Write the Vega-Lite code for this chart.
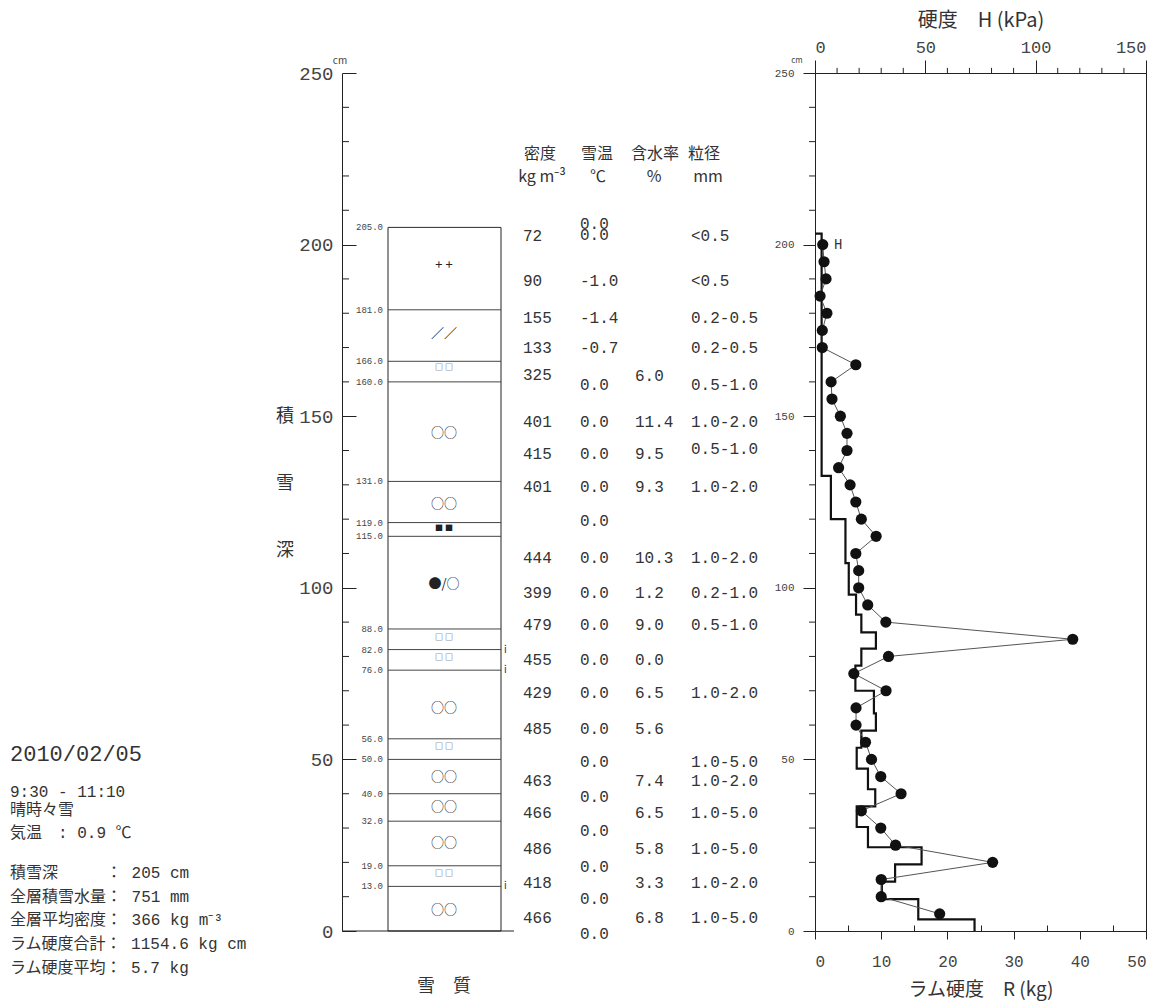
{
  "$schema": "https://vega.github.io/schema/vega-lite/v6.json",
  "background": "white",
  "padding": {"left": 10, "top": 9, "right": 5, "bottom": 5},
  "autosize": {"type": "pad"},
  "bounds": "flush",
  "spacing": 0,
  "config": {
    "view": {"stroke": null},
    "font": "Noto Sans CJK JP",
    "text": {"color": "#333", "font": "Noto Sans CJK JP"},
    "axis": {"labelFont": "Liberation Mono", "titleFont": "Noto Sans CJK JP", "domainColor": "#222", "tickColor": "#222", "labelColor": "#444", "titleColor": "#333", "grid": false, "titleFontWeight": "normal", "labelOverlap": false}
  },
  "datasets": {
    "info": [
      {"line": 0, "text": "2010/02/05"},
      {"line": 1.61, "text": "9:30 - 11:10"},
      {"line": 2.37, "text": "\u00a0晴時々雪"},
      {"line": 3.35, "text": "気温　: 0.9 ℃"},
      {"line": 5.04, "text": "積雪深　　　： 205 cm"},
      {"line": 6.06, "text": "全層積雪水量： 751 mm"},
      {"line": 7.03, "text": "全層平均密度： 366 kg m⁻³"},
      {"line": 8.05, "text": "ラム硬度合計： 1154.6 kg cm"},
      {"line": 9.07, "text": "ラム硬度平均： 5.7 kg"}
    ],
    "minorDepth": [
      {"v": 10}, {"v": 20}, {"v": 30}, {"v": 40}, {"v": 60}, {"v": 70}, {"v": 80}, {"v": 90},
      {"v": 110}, {"v": 120}, {"v": 130}, {"v": 140}, {"v": 160}, {"v": 170}, {"v": 180}, {"v": 190},
      {"v": 210}, {"v": 220}, {"v": 230}, {"v": 240}
    ],
    "minorH": [
      {"h": 10}, {"h": 20}, {"h": 30}, {"h": 40}, {"h": 60}, {"h": 70}, {"h": 80}, {"h": 90},
      {"h": 110}, {"h": 120}, {"h": 130}, {"h": 140}
    ],
    "bounds": [
      {"b": 205}, {"b": 181}, {"b": 166}, {"b": 160}, {"b": 131}, {"b": 119}, {"b": 115}, {"b": 88},
      {"b": 82}, {"b": 76}, {"b": 56}, {"b": 50}, {"b": 40}, {"b": 32}, {"b": 19}, {"b": 13}
    ],
    "symbols": [
      {"d": 194, "s": "+ +"}, {"d": 174, "s": "／／"}, {"d": 164, "s": "□ □"}, {"d": 145, "s": "○○"},
      {"d": 124.5, "s": "○○"}, {"d": 117, "s": "■ ■"}, {"d": 101, "s": "●/○"}, {"d": 85.5, "s": "□ □"},
      {"d": 79.5, "s": "□ □"}, {"d": 65, "s": "○○"}, {"d": 53.5, "s": "□ □"}, {"d": 45, "s": "○○"},
      {"d": 36, "s": "○○"}, {"d": 25.5, "s": "○○"}, {"d": 16.5, "s": "□ □"}, {"d": 6, "s": "○○"}
    ],
    "ice": [{"d": 82}, {"d": 76}, {"d": 13}],
    "table": [
      {"c": "密度", "d": 202.6, "t": "72"}, {"c": "密度", "d": 189.5, "t": "90"}, {"c": "密度", "d": 178.5, "t": "155"},
      {"c": "密度", "d": 170, "t": "133"}, {"c": "密度", "d": 162, "t": "325"}, {"c": "密度", "d": 148.4, "t": "401"},
      {"c": "密度", "d": 139, "t": "415"}, {"c": "密度", "d": 129.3, "t": "401"}, {"c": "密度", "d": 108.7, "t": "444"},
      {"c": "密度", "d": 98.5, "t": "399"}, {"c": "密度", "d": 89.2, "t": "479"}, {"c": "密度", "d": 79, "t": "455"},
      {"c": "密度", "d": 69.3, "t": "429"}, {"c": "密度", "d": 58.9, "t": "485"}, {"c": "密度", "d": 43.8, "t": "463"},
      {"c": "密度", "d": 34.4, "t": "466"}, {"c": "密度", "d": 23.9, "t": "486"}, {"c": "密度", "d": 13.9, "t": "418"},
      {"c": "密度", "d": 3.8, "t": "466"},
      {"c": "雪温", "d": 206.0, "t": "0.0"}, {"c": "雪温", "d": 202.7, "t": "0.0"}, {"c": "雪温", "d": 189.5, "t": "-1.0"},
      {"c": "雪温", "d": 178.5, "t": "-1.4"}, {"c": "雪温", "d": 170, "t": "-0.7"}, {"c": "雪温", "d": 159.1, "t": "0.0"},
      {"c": "雪温", "d": 148.4, "t": "0.0"}, {"c": "雪温", "d": 139, "t": "0.0"}, {"c": "雪温", "d": 129.3, "t": "0.0"},
      {"c": "雪温", "d": 119.6, "t": "0.0"}, {"c": "雪温", "d": 108.7, "t": "0.0"}, {"c": "雪温", "d": 98.5, "t": "0.0"},
      {"c": "雪温", "d": 89.2, "t": "0.0"}, {"c": "雪温", "d": 79, "t": "0.0"}, {"c": "雪温", "d": 69.3, "t": "0.0"},
      {"c": "雪温", "d": 58.9, "t": "0.0"}, {"c": "雪温", "d": 49.3, "t": "0.0"}, {"c": "雪温", "d": 39, "t": "0.0"},
      {"c": "雪温", "d": 29.2, "t": "0.0"}, {"c": "雪温", "d": 18.6, "t": "0.0"}, {"c": "雪温", "d": 9.3, "t": "0.0"},
      {"c": "雪温", "d": -0.9, "t": "0.0"},
      {"c": "含水率", "d": 161.6, "t": "6.0"}, {"c": "含水率", "d": 148.4, "t": "11.4"}, {"c": "含水率", "d": 139, "t": "9.5"},
      {"c": "含水率", "d": 129.3, "t": "9.3"}, {"c": "含水率", "d": 108.7, "t": "10.3"}, {"c": "含水率", "d": 98.5, "t": "1.2"},
      {"c": "含水率", "d": 89.2, "t": "9.0"}, {"c": "含水率", "d": 79, "t": "0.0"}, {"c": "含水率", "d": 69.3, "t": "6.5"},
      {"c": "含水率", "d": 58.9, "t": "5.6"}, {"c": "含水率", "d": 43.8, "t": "7.4"}, {"c": "含水率", "d": 34.4, "t": "6.5"},
      {"c": "含水率", "d": 23.9, "t": "5.8"}, {"c": "含水率", "d": 13.9, "t": "3.3"}, {"c": "含水率", "d": 3.8, "t": "6.8"},
      {"c": "粒径", "d": 202.6, "t": "<0.5"}, {"c": "粒径", "d": 189.5, "t": "<0.5"}, {"c": "粒径", "d": 178.5, "t": "0.2-0.5"},
      {"c": "粒径", "d": 170, "t": "0.2-0.5"}, {"c": "粒径", "d": 159.1, "t": "0.5-1.0"}, {"c": "粒径", "d": 148.4, "t": "1.0-2.0"},
      {"c": "粒径", "d": 140.4, "t": "0.5-1.0"}, {"c": "粒径", "d": 129.3, "t": "1.0-2.0"}, {"c": "粒径", "d": 108.7, "t": "1.0-2.0"},
      {"c": "粒径", "d": 98.5, "t": "0.2-1.0"}, {"c": "粒径", "d": 89.2, "t": "0.5-1.0"}, {"c": "粒径", "d": 69.3, "t": "1.0-2.0"},
      {"c": "粒径", "d": 49.3, "t": "1.0-5.0"}, {"c": "粒径", "d": 43.8, "t": "1.0-2.0"}, {"c": "粒径", "d": 34.4, "t": "1.0-5.0"},
      {"c": "粒径", "d": 23.9, "t": "1.0-5.0"}, {"c": "粒径", "d": 13.9, "t": "1.0-2.0"}, {"c": "粒径", "d": 3.8, "t": "1.0-5.0"}
    ],
    "ram": [
      {"i": 0, "top": 203.2, "R": 0}, {"i": 1, "top": 203.2, "R": 1.0}, {"i": 2, "top": 132.6, "R": 2.4},
      {"i": 3, "top": 120, "R": 4.6}, {"i": 4, "top": 107.2, "R": 5.1}, {"i": 5, "top": 98, "R": 6.2},
      {"i": 6, "top": 92.2, "R": 7.0}, {"i": 7, "top": 87, "R": 9.2}, {"i": 8, "top": 82.3, "R": 7.0},
      {"i": 9, "top": 77.3, "R": 6.1}, {"i": 10, "top": 70, "R": 8.9}, {"i": 11, "top": 63.4, "R": 9.2},
      {"i": 12, "top": 58.4, "R": 7.0}, {"i": 13, "top": 53.4, "R": 6.3}, {"i": 14, "top": 47.3, "R": 8.0},
      {"i": 15, "top": 41.3, "R": 9.1}, {"i": 16, "top": 36.3, "R": 6.3}, {"i": 17, "top": 30.3, "R": 8.0},
      {"i": 18, "top": 24.4, "R": 16.1}, {"i": 19, "top": 19.4, "R": 12.1}, {"i": 20, "top": 14.4, "R": 10.1},
      {"i": 21, "top": 9.3, "R": 15.6}, {"i": 22, "top": 3.4, "R": 24.1}, {"i": 23, "top": 0, "R": 24.1}
    ],
    "hard": [
      {"d": 200, "H": 3.5}, {"d": 195, "H": 4.1}, {"d": 190, "H": 5.0}, {"d": 185, "H": 2.3}, {"d": 180, "H": 5.4},
      {"d": 175, "H": 3.3}, {"d": 170, "H": 3.3}, {"d": 165, "H": 18.5}, {"d": 160, "H": 7.3}, {"d": 155, "H": 7.7},
      {"d": 150, "H": 11.5}, {"d": 145, "H": 14.5}, {"d": 140, "H": 14.5}, {"d": 135, "H": 10.7}, {"d": 130, "H": 15.9},
      {"d": 125, "H": 18.5}, {"d": 120, "H": 21.0}, {"d": 115, "H": 27.7}, {"d": 110, "H": 18.5}, {"d": 105, "H": 19.8},
      {"d": 100, "H": 19.8}, {"d": 95, "H": 23.9}, {"d": 90, "H": 32.1}, {"d": 85, "H": 116.8}, {"d": 80, "H": 33.3},
      {"d": 75, "H": 17.6}, {"d": 70, "H": 32.2}, {"d": 65, "H": 18.6}, {"d": 60, "H": 18.6}, {"d": 55, "H": 22.9},
      {"d": 50, "H": 25.6}, {"d": 45, "H": 29.8}, {"d": 40, "H": 39.0}, {"d": 35, "H": 21.0}, {"d": 30, "H": 29.8},
      {"d": 25, "H": 36.5}, {"d": 20, "H": 80.5}, {"d": 15, "H": 30.0}, {"d": 10, "H": 30.0}, {"d": 5, "H": 56.5}
    ]
  },
  "hconcat": [
    {
      "width": 332,
      "height": 858,
      "data": {"name": "info"},
      "encoding": {
        "x": {"datum": 0, "type": "quantitative", "scale": {"domain": [0, 1], "nice": false}, "axis": null},
        "y": {"field": "line", "type": "quantitative", "scale": {"domain": [-28.86, 7.5], "reverse": true, "nice": false, "zero": false}, "axis": null},
        "text": {"field": "text"}
      },
      "layer": [
        {"transform": [{"filter": "datum.line === 0"}], "mark": {"type": "text", "align": "left", "baseline": "middle", "fontSize": 22, "font": "Liberation Mono, Noto Sans CJK JP", "color": "#333"}},
        {"transform": [{"filter": "datum.line !== 0"}], "mark": {"type": "text", "align": "left", "baseline": "middle", "fontSize": 16, "font": "Liberation Mono, Noto Sans CJK JP", "color": "#333"}}
      ]
    },
    {
      "width": 473,
      "height": 858,
      "layer": [
        {
          "data": {"values": [{"top": 205, "bottom": 0}]},
          "mark": {"type": "rect", "filled": false, "color": "#222", "strokeWidth": 1},
          "encoding": {
            "x": {"datum": 46, "type": "quantitative", "scale": {"domain": [0, 473], "nice": false, "zero": false}, "axis": null},
            "x2": {"datum": 159},
            "y": {"field": "top", "type": "quantitative", "scale": {"domain": [0, 250], "nice": false},
              "axis": {"values": [0, 50, 100, 150, 200, 250], "tickSize": -14,
                "labelFontSize": 19, "labelPadding": 23, "title": null}},
            "y2": {"field": "bottom"}
          }
        },
        {
          "data": {"name": "minorDepth"},
          "mark": {"type": "rule", "color": "#222", "strokeWidth": 1},
          "encoding": {
            "x": {"datum": 0, "type": "quantitative"},
            "x2": {"datum": 7},
            "y": {"field": "v", "type": "quantitative"}
          }
        },
        {
          "data": {"name": "bounds"},
          "mark": {"type": "rule", "color": "#444", "strokeWidth": 1},
          "encoding": {
            "x": {"datum": 46, "type": "quantitative"},
            "x2": {"datum": 159},
            "y": {"field": "b", "type": "quantitative"}
          }
        },
        {
          "data": {"name": "bounds"},
          "mark": {"type": "text", "align": "right", "baseline": "middle", "fontSize": 9, "color": "#444", "font": "Liberation Mono"},
          "encoding": {
            "x": {"datum": 41, "type": "quantitative"},
            "y": {"field": "b", "type": "quantitative"},
            "text": {"field": "b", "type": "quantitative", "format": ".1f"}
          }
        },
        {
          "data": {"name": "symbols"},
          "transform": [{"filter": "indexof(datum.s, '□') < 0 && indexof(datum.s, '■') < 0"}],
          "mark": {"type": "text", "align": "center", "baseline": "middle", "fontSize": 13, "color": "#222"},
          "encoding": {
            "x": {"datum": 102, "type": "quantitative"},
            "y": {"field": "d", "type": "quantitative"},
            "text": {"field": "s"}
          }
        },
        {
          "data": {"name": "symbols"},
          "transform": [{"filter": "indexof(datum.s, '□') >= 0 || indexof(datum.s, '■') >= 0"}],
          "mark": {"type": "text", "align": "center", "baseline": "middle", "fontSize": 8, "color": "#222"},
          "encoding": {
            "x": {"datum": 102, "type": "quantitative"},
            "y": {"field": "d", "type": "quantitative"},
            "text": {"field": "s"}
          }
        },
        {
          "data": {"name": "ice"},
          "mark": {"type": "text", "align": "left", "baseline": "middle", "fontSize": 10, "color": "#333", "text": "i"},
          "encoding": {
            "x": {"datum": 162, "type": "quantitative"},
            "y": {"field": "d", "type": "quantitative"}
          }
        },
        {
          "data": {"name": "table"},
          "transform": [{"filter": "datum.c === '密度'"}],
          "mark": {"type": "text", "align": "left", "baseline": "middle", "fontSize": 16, "font": "Liberation Mono", "color": "#333"},
          "encoding": {"x": {"datum": 181, "type": "quantitative"}, "y": {"field": "d", "type": "quantitative"}, "text": {"field": "t"}}
        },
        {
          "data": {"name": "table"},
          "transform": [{"filter": "datum.c === '雪温'"}],
          "mark": {"type": "text", "align": "left", "baseline": "middle", "fontSize": 16, "font": "Liberation Mono", "color": "#333"},
          "encoding": {"x": {"datum": 238, "type": "quantitative"}, "y": {"field": "d", "type": "quantitative"}, "text": {"field": "t"}}
        },
        {
          "data": {"name": "table"},
          "transform": [{"filter": "datum.c === '含水率'"}],
          "mark": {"type": "text", "align": "left", "baseline": "middle", "fontSize": 16, "font": "Liberation Mono", "color": "#333"},
          "encoding": {"x": {"datum": 293, "type": "quantitative"}, "y": {"field": "d", "type": "quantitative"}, "text": {"field": "t"}}
        },
        {
          "data": {"name": "table"},
          "transform": [{"filter": "datum.c === '粒径'"}],
          "mark": {"type": "text", "align": "left", "baseline": "middle", "fontSize": 16, "font": "Liberation Mono", "color": "#333"},
          "encoding": {"x": {"datum": 349, "type": "quantitative"}, "y": {"field": "d", "type": "quantitative"}, "text": {"field": "t"}}
        },
        {
          "data": {"values": [
            {"t": "密度", "p": 198, "d": 226.4}, {"t": "雪温", "p": 255, "d": 226.4}, {"t": "含水率", "p": 313, "d": 226.4}, {"t": "粒径", "p": 362, "d": 226.4},
            {"t": "kg m⁻³", "p": 200, "d": 219.7}, {"t": "℃", "p": 256, "d": 219.7}, {"t": "%", "p": 312, "d": 219.7}, {"t": "mm", "p": 366, "d": 219.7}
          ]},
          "mark": {"type": "text", "align": "center", "baseline": "middle", "fontSize": 16, "color": "#333"},
          "encoding": {"x": {"field": "p", "type": "quantitative"}, "y": {"field": "d", "type": "quantitative"}, "text": {"field": "t"}}
        },
        {
          "data": {"values": [{"t": "積", "d": 149.8}, {"t": "雪", "d": 130.2}, {"t": "深", "d": 110.7}]},
          "mark": {"type": "text", "align": "center", "baseline": "middle", "fontSize": 18, "color": "#333"},
          "encoding": {"x": {"datum": -57, "type": "quantitative"}, "y": {"field": "d", "type": "quantitative"}, "text": {"field": "t"}}
        },
        {
          "data": {"values": [{"t": "雪　質"}]},
          "mark": {"type": "text", "align": "center", "baseline": "middle", "fontSize": 18, "color": "#333"},
          "encoding": {"x": {"datum": 102, "type": "quantitative"}, "y": {"datum": -16.3, "type": "quantitative"}, "text": {"field": "t"}}
        },
        {
          "data": {"values": [{"t": "cm"}]},
          "mark": {"type": "text", "align": "center", "baseline": "middle", "fontSize": 10, "dy": -12, "color": "#444"},
          "encoding": {"x": {"datum": -2, "type": "quantitative"}, "y": {"datum": 250, "type": "quantitative"}, "text": {"field": "t"}}
        },
        {
          "data": {"values": [{"a": 0}]},
          "mark": {"type": "rule", "color": "#222", "strokeWidth": 1},
          "encoding": {"x": {"datum": 0, "type": "quantitative"}, "x2": {"datum": 172}, "y": {"datum": 0, "type": "quantitative"}}
        }
      ]
    },
    {
      "width": 331,
      "height": 858,
      "view": {"stroke": "#222", "strokeWidth": 1},
      "resolve": {"scale": {"x": "independent"}},
      "layer": [
        {
          "data": {"name": "ram"},
          "mark": {"type": "line", "interpolate": "step-before", "color": "#111", "strokeWidth": 2.2},
          "encoding": {
            "x": {"field": "R", "type": "quantitative", "scale": {"domain": [0, 50], "nice": false},
              "axis": {"orient": "bottom", "values": [0,5,10,15,20,25,30,35,40,45,50],
                "labelExpr": "datum.value % 10 === 0 ? datum.label : ''",
                "labelOverlap": false, "labelBound": false,
                "tickSize": {"condition": {"test": "datum.value % 10 === 0", "value": 8}, "value": -6},
                "labelFontSize": 16, "labelPadding": 14, "title": "ラム硬度　R (kg)", "titleFontSize": 19, "titlePadding": 11}},
            "y": {"field": "top", "type": "quantitative", "scale": {"domain": [0, 250], "nice": false},
              "axis": {"values": [0, 50, 100, 150, 200, 250], "tickSize": 12,
                "labelFontSize": 11, "labelPadding": 9, "title": null}},
            "order": {"field": "i", "type": "quantitative"}
          }
        },
        {
          "layer": [
            {
              "data": {"name": "hard"},
              "mark": {"type": "line", "color": "#555", "strokeWidth": 1},
              "encoding": {
                "x": {"field": "H", "type": "quantitative", "scale": {"domain": [0, 150], "nice": false},
                  "axis": {"orient": "top", "values": [0, 50, 100, 150], "tickSize": 13,
                    "labelFontSize": 17, "labelPadding": 4, "title": "硬度　H (kPa)", "titleFontSize": 20, "titlePadding": 8}},
                "y": {"field": "d", "type": "quantitative", "title": null},
                "order": {"field": "d", "type": "quantitative", "sort": "descending"}
              }
            },
            {
              "data": {"name": "hard"},
              "mark": {"type": "circle", "size": 125, "color": "#111", "opacity": 1},
              "encoding": {
                "x": {"field": "H", "type": "quantitative"},
                "y": {"field": "d", "type": "quantitative", "title": null}
              }
            },
            {
              "data": {"name": "minorDepth"},
              "mark": {"type": "rule", "color": "#222", "strokeWidth": 1},
              "encoding": {
                "x": {"datum": -2.7, "type": "quantitative"},
                "x2": {"datum": 0},
                "y": {"field": "v", "type": "quantitative", "title": null}
              }
            },
            {
              "data": {"name": "minorH"},
              "mark": {"type": "rule", "color": "#222", "strokeWidth": 1},
              "encoding": {
                "x": {"field": "h", "type": "quantitative"},
                "y": {"datum": 250, "type": "quantitative"},
                "y2": {"datum": 251.5}
              }
            },
            {
              "data": {"values": [{"t": "H"}]},
              "mark": {"type": "text", "align": "left", "baseline": "middle", "fontSize": 14, "font": "Liberation Mono", "color": "#333"},
              "encoding": {"x": {"datum": 8.6, "type": "quantitative"}, "y": {"datum": 200, "type": "quantitative"}, "text": {"field": "t"}}
            },
            {
              "data": {"values": [{"t": "cm"}]},
              "mark": {"type": "text", "align": "center", "baseline": "middle", "fontSize": 8, "dy": -12, "color": "#444"},
              "encoding": {"x": {"datum": -8.2, "type": "quantitative"}, "y": {"datum": 250, "type": "quantitative"}, "text": {"field": "t"}}
            }
          ]
        }
      ]
    }
  ]
}
